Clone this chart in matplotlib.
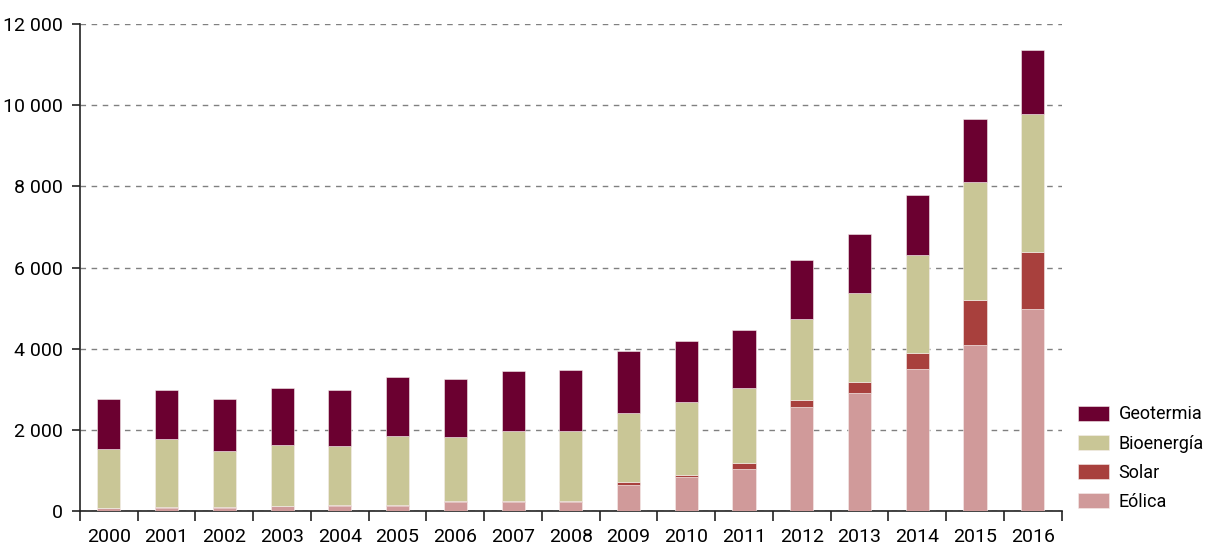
import matplotlib.pyplot as plt
import numpy as np

years = [str(y) for y in range(2000, 2017)]
eolica = [80, 75, 75, 125, 115, 120, 235, 235, 235, 640, 830, 1045, 2560, 2900, 3490, 4100, 4970]
solar = [0, 25, 25, 10, 25, 25, 25, 25, 25, 65, 60, 150, 165, 290, 410, 1090, 1410]
bioenergia = [1440, 1680, 1390, 1500, 1455, 1710, 1555, 1715, 1715, 1720, 1805, 1830, 2005, 2185, 2410, 2925, 3395]
geotermia = [1240, 1210, 1270, 1395, 1395, 1440, 1440, 1470, 1500, 1515, 1505, 1440, 1465, 1455, 1470, 1550, 1585]

series = [
    ('Eólica', eolica, '#d09a9a'),
    ('Solar', solar, '#a8403d'),
    ('Bioenergía', bioenergia, '#c9c696'),
    ('Geotermia', geotermia, '#6b0030'),
]

plt.rcParams['font.family'] = ['Roboto', 'DejaVu Sans']

fig = plt.figure(figsize=(12.06, 5.46), dpi=100)
ax = fig.add_axes([0.0663, 0.064, 0.814, 0.892])

x = np.arange(len(years))
bottom = np.zeros(len(years))
handles = []
for name, vals, color in series:
    b = ax.bar(x, vals, width=0.40, bottom=bottom, color=color,
               edgecolor='#f6eeec', linewidth=0.4, label=name, zorder=3)
    handles.append(b)
    bottom += np.array(vals)

ax.set_xlim(-0.5, len(years) - 0.5)
ax.set_ylim(0, 12000)
ax.set_yticks(range(0, 12001, 2000))
ax.set_yticklabels([f'{v:,}'.replace(',', ' ') for v in range(0, 12001, 2000)], fontsize=14)
ax.set_xticks(x)
ax.set_xticklabels(years, fontsize=14)
ax.set_xticks(np.arange(-0.5, len(years), 1), minor=True)
ax.tick_params(axis='x', which='major', length=0, pad=12)
ax.tick_params(axis='x', which='minor', length=7, width=1.2, color='#222222')
ax.tick_params(axis='y', length=6, width=1.2, color='#222222', pad=6)

for s in ['top', 'right']:
    ax.spines[s].set_visible(False)
for s in ['left', 'bottom']:
    ax.spines[s].set_linewidth(1.2)
    ax.spines[s].set_color('#222222')

ax.yaxis.grid(True, linestyle=(0, (4, 4)), color='#808080', linewidth=1.0, zorder=0)
ax.set_axisbelow(True)

leg = ax.legend(handles[::-1], [s[0] for s in series][::-1], loc='lower left',
                bbox_to_anchor=(1.0165, 0.0), frameon=False, fontsize=13,
                borderpad=0, borderaxespad=0,
                handlelength=1.75, handleheight=0.9, labelspacing=0.62, handletextpad=0.5)

fig.savefig('out.png', dpi=100)
